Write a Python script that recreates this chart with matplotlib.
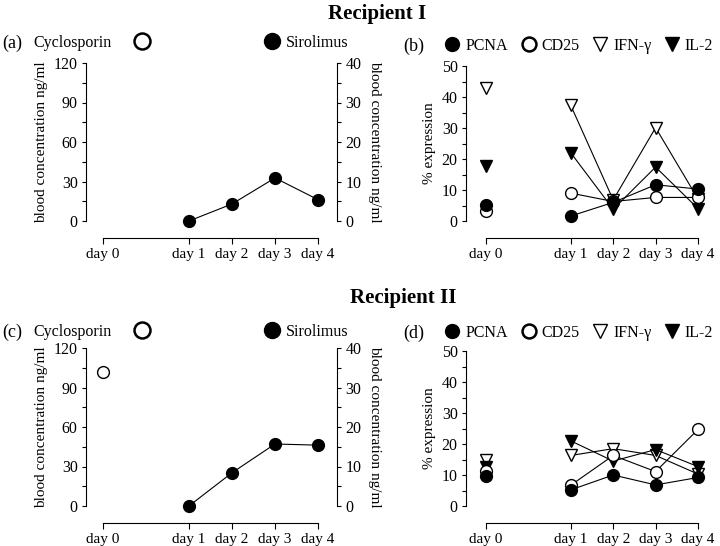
import numpy as np
import matplotlib
matplotlib.use('Agg')
import matplotlib.pyplot as plt
from matplotlib.lines import Line2D
from matplotlib.ticker import MultipleLocator

plt.rcParams['font.family'] = ['Liberation Serif', 'DejaVu Serif']
plt.rcParams['font.size'] = 11

# x categories (day 0 sits a bit apart from days 1-4)
days = ['day 0', 'day 1', 'day 2', 'day 3', 'day 4']
day_pos = [0, 2, 3, 4, 5]

# blood concentrations (cyclosporin on left axis, sirolimus on right axis)
cyclo_1 = [np.nan, np.nan, np.nan, np.nan, np.nan]
siro_1 = [np.nan, 0, 4.3, 10.9, 5.4]
cyclo_2 = [101.5, np.nan, np.nan, np.nan, np.nan]
siro_2 = [np.nan, 0, 8.4, 15.7, 15.4]

# % expression
pcna_1 = [5.2, 1.6, 6.0, 11.7, 10.3]
cd25_1 = [3.3, 9.0, 6.3, 7.6, 7.6]
ifn_1 = [42.9, 37.3, 6.8, 30.1, 7.1]
il2_1 = [17.6, 22.0, 3.8, 17.4, 4.0]

pcna_2 = [9.8, 5.2, 10.0, 6.8, 9.2]
cd25_2 = [11.2, 6.7, 16.3, 11.1, 24.7]
ifn_2 = [15.0, 16.3, 18.5, 16.3, 10.3]
il2_2 = [12.5, 21.0, 14.5, 18.2, 12.7]

W, H = 720, 546
fig = plt.figure(figsize=(7.2, 5.46), dpi=100)


def rect(left, top, right, bottom):
    return [left / W, 1 - bottom / H, (right - left) / W, (bottom - top) / H]


def style_x(ax):
    ax.spines['top'].set_visible(False)
    ax.spines['bottom'].set_position(('outward', 12))
    ax.spines['bottom'].set_bounds(day_pos[0], day_pos[-1])
    ax.set_xticks(day_pos)
    ax.set_xticklabels(days)
    ax.tick_params(axis='x', direction='out', length=4, width=0.8, pad=3.5)


def series(ax, vals, connect=True, **kw):
    x = np.array(day_pos)
    y = np.array(vals, dtype=float)
    # day 0 is never joined to the later days
    ax.plot(x[:1], y[:1], linestyle='none', clip_on=False, **kw)
    if connect:
        ax.plot(x[1:], y[1:], '-', color='black', lw=0.8, clip_on=False, **kw)


filled = dict(marker='o', ms=8.5, mfc='black', mec='black', mew=1)
hollow = dict(marker='o', ms=8.5, mfc='white', mec='black', mew=1)
tri_open = dict(marker='v', ms=9, mfc='white', mec='black', mew=1)
tri_fill = dict(marker='v', ms=9, mfc='black', mec='black', mew=1)


def conc_panel(top, bottom, cyclo, siro, letter, yhead):
    ax = fig.add_axes(rect(86, top, 337, bottom))
    ax.set_xlim(-0.39, 5.44)
    ax.set_ylim(0, 120)
    ax.spines['right'].set_visible(False)
    ax.spines['left'].set_bounds(0, 120)
    style_x(ax)
    ax.yaxis.set_major_locator(MultipleLocator(30))
    ax.yaxis.set_minor_locator(MultipleLocator(15))
    ax.tick_params(axis='y', which='major', length=3, width=0.8, pad=3, labelsize=11.5)
    ax.tick_params(axis='y', which='minor', length=3, width=0.8)
    ax.set_ylabel('blood concentration ng/ml', labelpad=4)
    ax.patch.set_visible(False)

    ax2 = ax.twinx()
    ax2.set_ylim(0, 40)
    for s in ['left', 'top', 'bottom']:
        ax2.spines[s].set_visible(False)
    ax2.spines['right'].set_bounds(0, 40)
    ax2.yaxis.set_major_locator(MultipleLocator(10))
    ax2.yaxis.set_minor_locator(MultipleLocator(5))
    ax2.tick_params(axis='y', which='major', length=3, width=0.8, pad=3, labelsize=11.5)
    ax2.tick_params(axis='y', which='minor', length=3, width=0.8)
    ax2.set_ylabel('blood concentration ng/ml', rotation=270, labelpad=14)

    series(ax, cyclo, connect=False, **hollow)
    series(ax2, siro, **filled)

    for a in (ax, ax2):
        for sp in a.spines.values():
            sp.set_linewidth(0.8)

    fig.text(2 / W, 1 - yhead / H, letter, fontsize=13, va='center', ha='left')
    h1 = Line2D([], [], linestyle='none', marker='o', ms=11.5, mfc='white', mec='black', mew=1.8)
    h2 = Line2D([], [], linestyle='none', marker='o', ms=11.5, mfc='black', mec='black')
    fig.legend([h1], ['Cyclosporin'], loc='center left', bbox_to_anchor=(33 / W, 1 - yhead / H),
               frameon=False, markerfirst=False, handlelength=1.0, handletextpad=1.4,
               borderpad=0, borderaxespad=0, fontsize=11.5)
    fig.legend([h2], ['Sirolimus'], loc='center left', bbox_to_anchor=(264.5 / W, 1 - yhead / H),
               frameon=False, handlelength=1.0, handletextpad=0.36,
               borderpad=0, borderaxespad=0, fontsize=11.5)
    return ax


def expr_panel(top, bottom, pcna, cd25, ifn, il2, letter, yhead):
    ax = fig.add_axes(rect(466, top, 715, bottom))
    ax.set_xlim(-0.47, 5.4)
    ax.set_ylim(0, 50)
    ax.spines['right'].set_visible(False)
    ax.spines['left'].set_bounds(0, 50)
    style_x(ax)
    ax.yaxis.set_major_locator(MultipleLocator(10))
    ax.yaxis.set_minor_locator(MultipleLocator(5))
    ax.tick_params(axis='y', which='major', length=3, width=0.8, pad=3, labelsize=11.5)
    ax.tick_params(axis='y', which='minor', length=3, width=0.8)
    ax.set_ylabel('% expression', labelpad=4)
    for sp in ax.spines.values():
        sp.set_linewidth(0.8)

    series(ax, ifn, **tri_open)
    series(ax, il2, **tri_fill)
    series(ax, cd25, **hollow)
    series(ax, pcna, **filled)

    fig.text(403 / W, 1 - yhead / H, letter, fontsize=13, va='center', ha='left')
    hs = [Line2D([], [], linestyle='none', marker='o', ms=10, mfc='black', mec='black'),
          Line2D([], [], linestyle='none', marker='o', ms=10, mfc='white', mec='black', mew=1.8),
          Line2D([], [], linestyle='none', marker='v', ms=10.5, mfc='white', mec='black', mew=1),
          Line2D([], [], linestyle='none', marker='v', ms=10.5, mfc='black', mec='black')]
    fig.legend(hs, ['PCNA', 'CD25', 'IFN-γ', 'IL-2'], loc='center left', ncol=4,
               bbox_to_anchor=(444.5 / W, 1 - yhead / H), frameon=False,
               handlelength=1.0, handletextpad=0.3, columnspacing=0.8,
               borderpad=0, borderaxespad=0, fontsize=11.5)
    return ax


fig.text(328 / W, 1 - 14 / H, 'Recipient I', fontsize=15, fontweight='bold', va='center', ha='left')
fig.text(350 / W, 1 - 298 / H, 'Recipient II', fontsize=15, fontweight='bold', va='center', ha='left')

conc_panel(63, 221, cyclo_1, siro_1, '(a)', 43)
expr_panel(66, 221, pcna_1, cd25_1, ifn_1, il2_1, '(b)', 46)
conc_panel(348, 506, cyclo_2, siro_2, '(c)', 332)
expr_panel(351, 506, pcna_2, cd25_2, ifn_2, il2_2, '(d)', 333)

fig.savefig('out.png', dpi=100)
